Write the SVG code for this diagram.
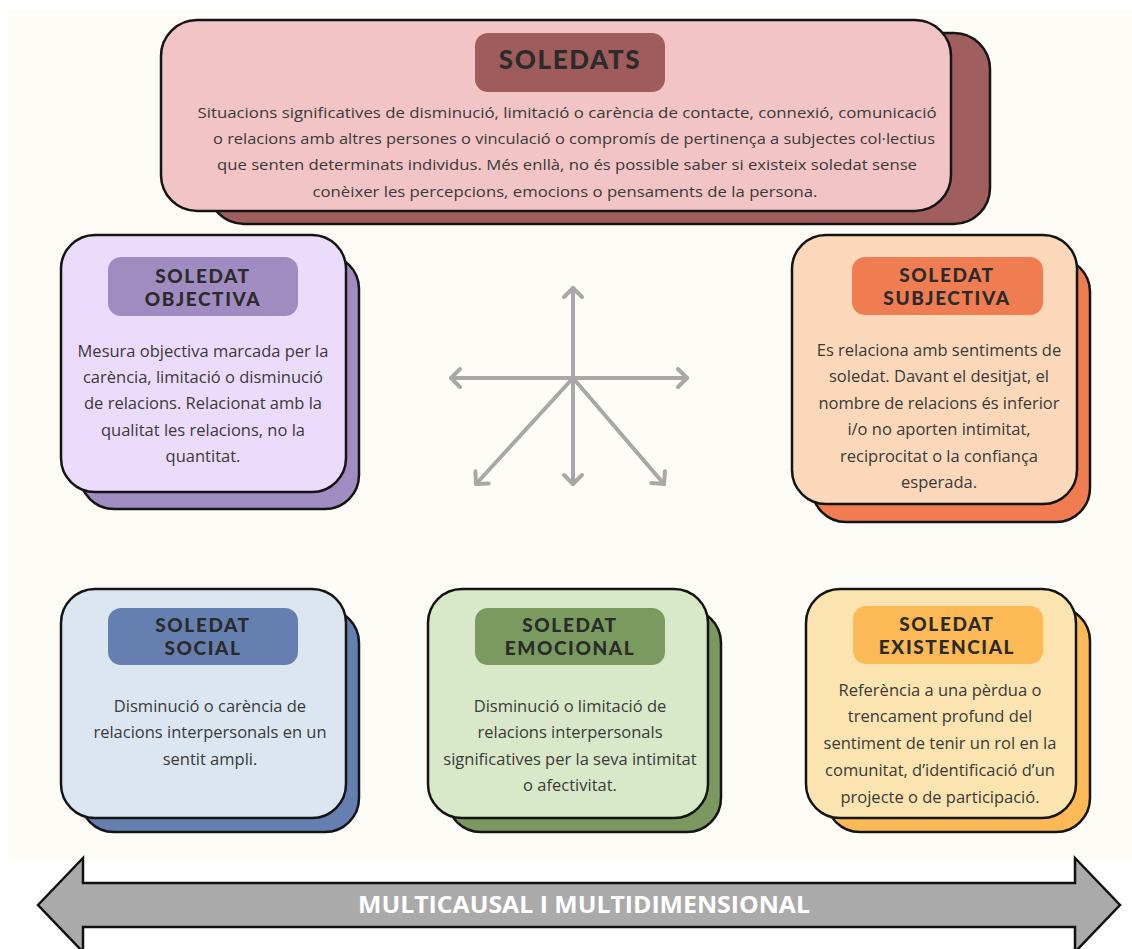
<svg xmlns="http://www.w3.org/2000/svg" width="1132" height="949" viewBox="0 0 1132 949">
<defs>
<style>
.box{stroke:#141414;stroke-width:2.5}
.ttl{font-family:Lato,Inter,"DejaVu Sans",sans-serif;font-weight:900;font-size:19px;fill:#2b2b2b;text-anchor:middle;letter-spacing:1.6px}
.dsc{font-family:"Open Sans","Noto Sans",sans-serif;font-size:16.5px;fill:#3a3a3a;text-anchor:middle}
.top{font-family:"Open Sans","Noto Sans",sans-serif;font-size:14.5px;fill:#3a3a3a;text-anchor:middle}
.ray{stroke:#a8a8a8;stroke-width:4;stroke-linecap:round;fill:none}
</style>
<marker id="chev" viewBox="0 0 24 24" markerWidth="24" markerHeight="24" refX="12" refY="12" orient="auto" markerUnits="userSpaceOnUse">
<path d="M3,3 L12,12 L3,21" fill="none" stroke="#a8a8a8" stroke-width="4" stroke-linecap="round" stroke-linejoin="round"/>
</marker>
</defs>
<rect x="0" y="0" width="1132" height="949" fill="#ffffff"/>
<rect x="8" y="10" width="1124" height="850" fill="#fdfcf7"/>

<g id="soledats">
<rect class="box" x="208" y="33" width="782" height="191" rx="36" fill="#a05e5e"/>
<rect class="box" x="161" y="20" width="790" height="191" rx="36" fill="#f2c4c6"/>
<rect x="475" y="33" width="190" height="59" rx="13" fill="#a05c5c"/>
<text class="ttl" x="570" y="69" style="font-size:26px">SOLEDATS</text>
<text class="top" x="567" y="118" textLength="739" lengthAdjust="spacingAndGlyphs">Situacions significatives de disminució, limitació o carència de contacte, connexió, comunicació</text>
<text class="top" x="574" y="144" textLength="722" lengthAdjust="spacingAndGlyphs">o relacions amb altres persones o vinculació o compromís de pertinença a subjectes col·lectius</text>
<text class="top" x="567" y="170" textLength="700" lengthAdjust="spacingAndGlyphs">que senten determinats individus. Més enllà, no és possible saber si existeix soledat sense</text>
<text class="top" x="565" y="197" textLength="505" lengthAdjust="spacingAndGlyphs">conèixer les percepcions, emocions o pensaments de la persona.</text>
</g>

<g id="objectiva">
<rect class="box" x="80" y="255" width="279" height="254" rx="34" fill="#a08cc0"/>
<rect class="box" x="61" y="235" width="285" height="257" rx="34" fill="#ecdcfb"/>
<rect x="108" y="257" width="190" height="59" rx="13" fill="#a08cc0"/>
<text class="ttl" x="203" y="283">SOLEDAT</text>
<text class="ttl" x="203" y="306">OBJECTIVA</text>
<text class="dsc" x="203" y="357">Mesura objectiva marcada per la</text>
<text class="dsc" x="203" y="383">carència, limitació o disminució</text>
<text class="dsc" x="203" y="409">de relacions. Relacionat amb la</text>
<text class="dsc" x="203" y="436">qualitat les relacions, no la</text>
<text class="dsc" x="203" y="462">quantitat.</text>
</g>

<g id="subjectiva">
<rect class="box" x="812" y="258" width="278" height="264" rx="34" fill="#f07c52"/>
<rect class="box" x="792" y="235" width="285" height="269" rx="34" fill="#fad8b9"/>
<rect x="852" y="257" width="191" height="58" rx="13" fill="#f07c52"/>
<text class="ttl" x="947" y="282">SOLEDAT</text>
<text class="ttl" x="947" y="305">SUBJECTIVA</text>
<text class="dsc" x="939" y="356">Es relaciona amb sentiments de</text>
<text class="dsc" x="939" y="382">soledat. Davant el desitjat, el</text>
<text class="dsc" x="939" y="409">nombre de relacions és inferior</text>
<text class="dsc" x="939" y="435">i/o no aporten intimitat,</text>
<text class="dsc" x="939" y="462">reciprocitat o la confiança</text>
<text class="dsc" x="939" y="488">esperada.</text>
</g>

<g id="social">
<rect class="box" x="80" y="609" width="279" height="223" rx="34" fill="#6580b0"/>
<rect class="box" x="61" y="589" width="285" height="229" rx="34" fill="#dbe6f1"/>
<rect x="108" y="608" width="190" height="57" rx="13" fill="#6580b0"/>
<text class="ttl" x="203" y="632">SOLEDAT</text>
<text class="ttl" x="203" y="655">SOCIAL</text>
<text class="dsc" x="210" y="712">Disminució o carència de</text>
<text class="dsc" x="210" y="738">relacions interpersonals en un</text>
<text class="dsc" x="210" y="765">sentit ampli.</text>
</g>

<g id="emocional">
<rect class="box" x="447" y="609" width="274" height="223" rx="34" fill="#7a9860"/>
<rect class="box" x="428" y="589" width="280" height="229" rx="34" fill="#d9e8c8"/>
<rect x="475" y="608" width="190" height="57" rx="13" fill="#7a9a60"/>
<text class="ttl" x="570" y="632">SOLEDAT</text>
<text class="ttl" x="570" y="655">EMOCIONAL</text>
<text class="dsc" x="570" y="712">Disminució o limitació de</text>
<text class="dsc" x="570" y="738">relacions interpersonals</text>
<text class="dsc" x="570" y="765">significatives per la seva intimitat</text>
<text class="dsc" x="570" y="791">o afectivitat.</text>
</g>

<g id="existencial">
<rect class="box" x="826" y="607" width="264" height="225" rx="34" fill="#fdb955"/>
<rect class="box" x="806" y="589" width="270" height="229" rx="34" fill="#fbe4b0"/>
<rect x="853" y="606" width="190" height="58" rx="13" fill="#fdb955"/>
<text class="ttl" x="947" y="631">SOLEDAT</text>
<text class="ttl" x="947" y="654">EXISTENCIAL</text>
<text class="dsc" x="940" y="696">Referència a una pèrdua o</text>
<text class="dsc" x="940" y="722">trencament profund del</text>
<text class="dsc" x="940" y="749">sentiment de tenir un rol en la</text>
<text class="dsc" x="940" y="776">comunitat, d’identificació d’un</text>
<text class="dsc" x="940" y="803">projecte o de participació.</text>
</g>

<g id="connectors">
<line class="ray" x1="573" y1="378" x2="573" y2="288" marker-end="url(#chev)"/>
<line class="ray" x1="573" y1="378" x2="451" y2="378" marker-end="url(#chev)"/>
<line class="ray" x1="573" y1="378" x2="687" y2="378" marker-end="url(#chev)"/>
<line class="ray" x1="573" y1="378" x2="573" y2="484" marker-end="url(#chev)"/>
<line class="ray" x1="573" y1="378" x2="476" y2="484" marker-end="url(#chev)"/>
<line class="ray" x1="573" y1="378" x2="664" y2="484" marker-end="url(#chev)"/>
</g>

<g id="multi">
<polygon points="38,905 83,858 83,883 1075,883 1075,858 1120,905 1075,952 1075,927 83,927 83,952" fill="#aaaaaa" stroke="#111111" stroke-width="2.5" stroke-linejoin="miter"/>
<text x="584" y="913" font-family="'Open Sans','Liberation Sans',sans-serif" font-weight="700" font-size="24" fill="#ffffff" text-anchor="middle" textLength="452" lengthAdjust="spacingAndGlyphs">MULTICAUSAL I MULTIDIMENSIONAL</text>
</g>
</svg>
